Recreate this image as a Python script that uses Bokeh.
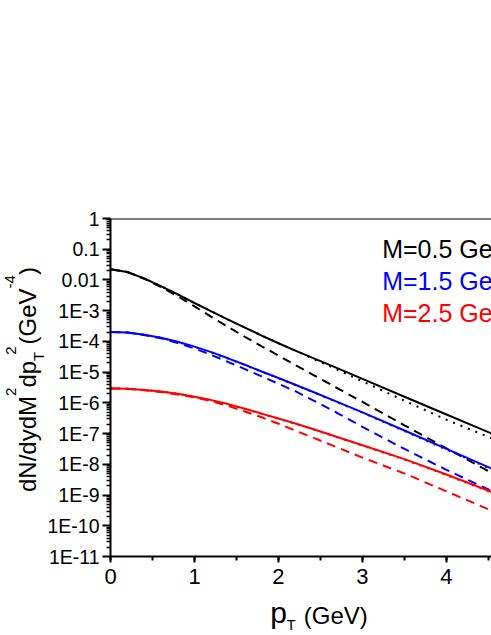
from bokeh.plotting import figure
from bokeh.layouts import row, column
from bokeh.models import (Range1d, FixedTicker, SingleIntervalTicker,
                          CustomJSTickFormatter, Span, Label, Div)
from bokeh.core.properties import value
from bokeh.embed import file_html
from bokeh.resources import INLINE

FONT = "Liberation Sans"

# ---- data ----
pt = [0.0, 0.2, 0.4, 0.6, 0.8, 1.0, 1.2, 1.4, 1.6, 1.8, 2.0, 2.2, 2.4, 2.7,
      3.0, 3.5, 4.0, 4.6]

m05_solid = [2.239e-2, 1.820e-2, 1.122e-2, 6.310e-3, 3.388e-3, 1.778e-3, 9.550e-4,
             5.129e-4, 2.818e-4, 1.549e-4, 8.710e-5, 5.012e-5, 2.951e-5, 1.349e-5,
             6.026e-6, 1.585e-6, 4.169e-7, 8.511e-8]
m05_dash = [2.239e-2, 1.820e-2, 1.096e-2, 5.888e-3, 2.951e-3, 1.380e-3, 6.310e-4,
            2.951e-4, 1.413e-4, 6.918e-5, 3.467e-5, 1.698e-5, 8.511e-6, 3.020e-6,
            1.072e-6, 1.862e-7, 3.311e-8, 4.266e-9]
m05_dot = [2.239e-2, 1.820e-2, 1.122e-2, 6.310e-3, 3.388e-3, 1.778e-3, 9.550e-4,
           5.129e-4, 2.818e-4, 1.549e-4, 8.710e-5, 5.012e-5, 2.818e-5, 1.202e-5,
           5.012e-6, 1.175e-6, 2.818e-7, 6.026e-8]

m15_solid = [2.042e-4, 1.950e-4, 1.660e-4, 1.318e-4, 9.772e-5, 6.761e-5, 4.467e-5,
             2.818e-5, 1.738e-5, 1.047e-5, 6.457e-6, 3.890e-6, 2.344e-6, 1.072e-6,
             4.898e-7, 1.259e-7, 3.162e-8, 6.166e-9]
m15_dash = [2.042e-4, 1.950e-4, 1.622e-4, 1.259e-4, 8.913e-5, 5.888e-5, 3.631e-5,
            2.138e-5, 1.259e-5, 7.244e-6, 4.169e-6, 2.399e-6, 1.259e-6, 4.677e-7,
            1.660e-7, 3.162e-8, 6.607e-9, 1.122e-9]
m15_dot = [2.042e-4, 1.950e-4, 1.660e-4, 1.318e-4, 9.550e-5, 6.607e-5, 4.365e-5,
           2.754e-5, 1.698e-5, 1.023e-5, 6.310e-6, 3.802e-6, 2.291e-6, 1.047e-6,
           4.786e-7, 1.202e-7, 3.020e-8, 5.754e-9]

m25_solid = [2.951e-6, 2.884e-6, 2.630e-6, 2.344e-6, 1.995e-6, 1.585e-6, 1.230e-6,
             9.120e-7, 6.457e-7, 4.467e-7, 3.090e-7, 2.138e-7, 1.445e-7, 7.762e-8,
             4.169e-8, 1.479e-8, 4.677e-9, 1.096e-9]
m25_dash = [2.951e-6, 2.884e-6, 2.570e-6, 2.239e-6, 1.862e-6, 1.514e-6, 1.148e-6,
            7.943e-7, 5.248e-7, 3.388e-7, 2.089e-7, 1.259e-7, 7.586e-8, 3.548e-8,
            1.660e-8, 5.012e-9, 1.318e-9, 2.630e-10]
m25_dot = [2.951e-6, 2.884e-6, 2.630e-6, 2.344e-6, 1.995e-6, 1.549e-6, 1.202e-6,
           8.913e-7, 6.310e-7, 4.365e-7, 3.020e-7, 2.089e-7, 1.413e-7, 7.586e-8,
           4.074e-8, 1.413e-8, 4.467e-9, 1.023e-9]

series_labels = ["M=0.5 GeV", "M=1.5 GeV", "M=2.5 GeV"]
series_colors = ["#000000", "#0000FF", "#FF0000"]
y_exponents = list(range(0, -12, -1))

# ---- main figure ----
YW = 44
MAIN_W, MAIN_H = 491 - YW, 596
p = figure(width=MAIN_W, height=MAIN_H,
           x_range=Range1d(0, 4.536), y_range=Range1d(1e-11, 1),
           y_axis_type="log", output_backend="svg", toolbar_location=None,
           title=None, min_border_left=110 - YW, min_border_right=0,
           min_border_top=218, min_border_bottom=40)
p.outline_line_color = None
p.grid.visible = False
p.background_fill_color = "white"
p.border_fill_color = "white"

groups = [(m05_solid, m05_dash, m05_dot),
          (m15_solid, m15_dash, m15_dot),
          (m25_solid, m25_dash, m25_dot)]
for (s, d, o), c in zip(groups, series_colors):
    p.line(pt, o, line_color=c, line_width=2, line_dash="2 6")
    p.line(pt, d, line_color=c, line_width=2, line_dash="9 6")
    p.line(pt, s, line_color=c, line_width=2)

# x axis
p.xaxis.ticker = SingleIntervalTicker(interval=1, num_minor_ticks=2)
p.xaxis.axis_line_width = 2
p.xaxis.major_tick_line_width = 2
p.xaxis.minor_tick_line_width = 2
p.xaxis.major_tick_out = 6
p.xaxis.major_tick_in = 0
p.xaxis.minor_tick_out = 4
p.xaxis.minor_tick_in = 0
p.xaxis.major_label_text_font = FONT
p.xaxis.major_label_text_font_size = "22px"
p.xaxis.major_label_text_color = "black"
p.xaxis.major_label_standoff = 6

# y axis
yt = [10.0 ** e for e in y_exponents]
ym = [m * 10.0 ** e for e in y_exponents[1:] for m in range(2, 10)]
p.yaxis.ticker = FixedTicker(ticks=yt, minor_ticks=ym)
p.yaxis.formatter = CustomJSTickFormatter(code="""
const e = Math.round(Math.log10(tick));
if (e == 0) return "1";
if (e == -1) return "0.1";
if (e == -2) return "0.01";
return "1E" + e;
""")
p.yaxis.axis_line_width = 2
p.yaxis.major_tick_line_width = 2
p.yaxis.minor_tick_line_width = 1.5
p.yaxis.major_tick_out = 8
p.yaxis.major_tick_in = 0
p.yaxis.minor_tick_out = 4
p.yaxis.minor_tick_in = 0
p.yaxis.major_label_text_font = FONT
p.yaxis.major_label_text_font_size = "19.5px"
p.yaxis.major_label_text_color = "black"
p.yaxis.major_label_standoff = 3

# top frame line
p.add_layout(Span(location=1, dimension="width", line_color="black", line_width=2))

# Label draws ~0.38 em below the requested baseline; compensate
SHIFT = 0.38

# legend texts (cut at the right edge like the reference)
for i, (t, c) in enumerate(zip(series_labels, series_colors)):
    p.add_layout(Label(x=271.7, y=298.2 - 32.2 * i + SHIFT * 25, x_units="screen",
                       y_units="screen", text=t, text_font=FONT,
                       text_font_size="25px", text_color=c,
                       text_align="left", text_baseline="alphabetic"))

# ---- y axis title (rotated HTML text with real sub/superscripts) ----
sup = "font-size:15px;position:relative;top:-20px;"
sub = "font-size:15px;position:relative;top:8px;"
y_title_html = (
    f'<div style="position:relative;width:{YW}px;height:{MAIN_H}px;overflow:visible;">'
    '<div style="position:absolute;left:16.4px;top:491.7px;transform:rotate(-90deg);'
    "transform-origin:0 0;white-space:nowrap;font-family:'Liberation Sans',Arial,sans-serif;"
    'font-size:24px;line-height:24px;color:#000;">'
    f'dN/dydM<span style="{sup}">2</span>'
    f'dp<span style="{sub}">T</span>'
    f'<span style="{sup}margin-left:-3px;">2</span>'
    '<span style="margin-left:2px;">(GeV</span>'
    f'<span style="{sup}top:-21px;">-4</span>)'
    '</div></div>'
)
ydiv = Div(text=y_title_html, width=YW, height=MAIN_H,
           styles={"overflow": "visible", "margin": "0", "padding": "0"})


# ---- x axis title: p_T (GeV) ----
def text_fig(w, h):
    f = figure(width=w, height=h, x_range=Range1d(0, w), y_range=Range1d(0, h),
               output_backend="svg", toolbar_location=None, title=None,
               x_axis_location=None, y_axis_location=None,
               min_border_left=0, min_border_right=0, min_border_top=0,
               min_border_bottom=0)
    f.outline_line_color = None
    f.grid.visible = False
    f.background_fill_color = "white"
    f.border_fill_color = "white"
    return f


def put(f, t, x, y, size):
    f.text(x=[x], y=[y], text=[t], text_font=value(FONT),
           text_font_size=value(size), text_color="black",
           text_align="left", text_baseline="alphabetic")


XH = 635 - MAIN_H
xf = text_fig(491, XH)
put(xf, "p", 269.7, 635 - 611.7, "30px")
put(xf, "T", 286.0, 635 - 624.0, "15px")
put(xf, "(GeV)", 303.3, 635 - 615.0, "24px")

layout = column(row(ydiv, p), xf)
open("out.html", "w").write(file_html(layout, INLINE))
